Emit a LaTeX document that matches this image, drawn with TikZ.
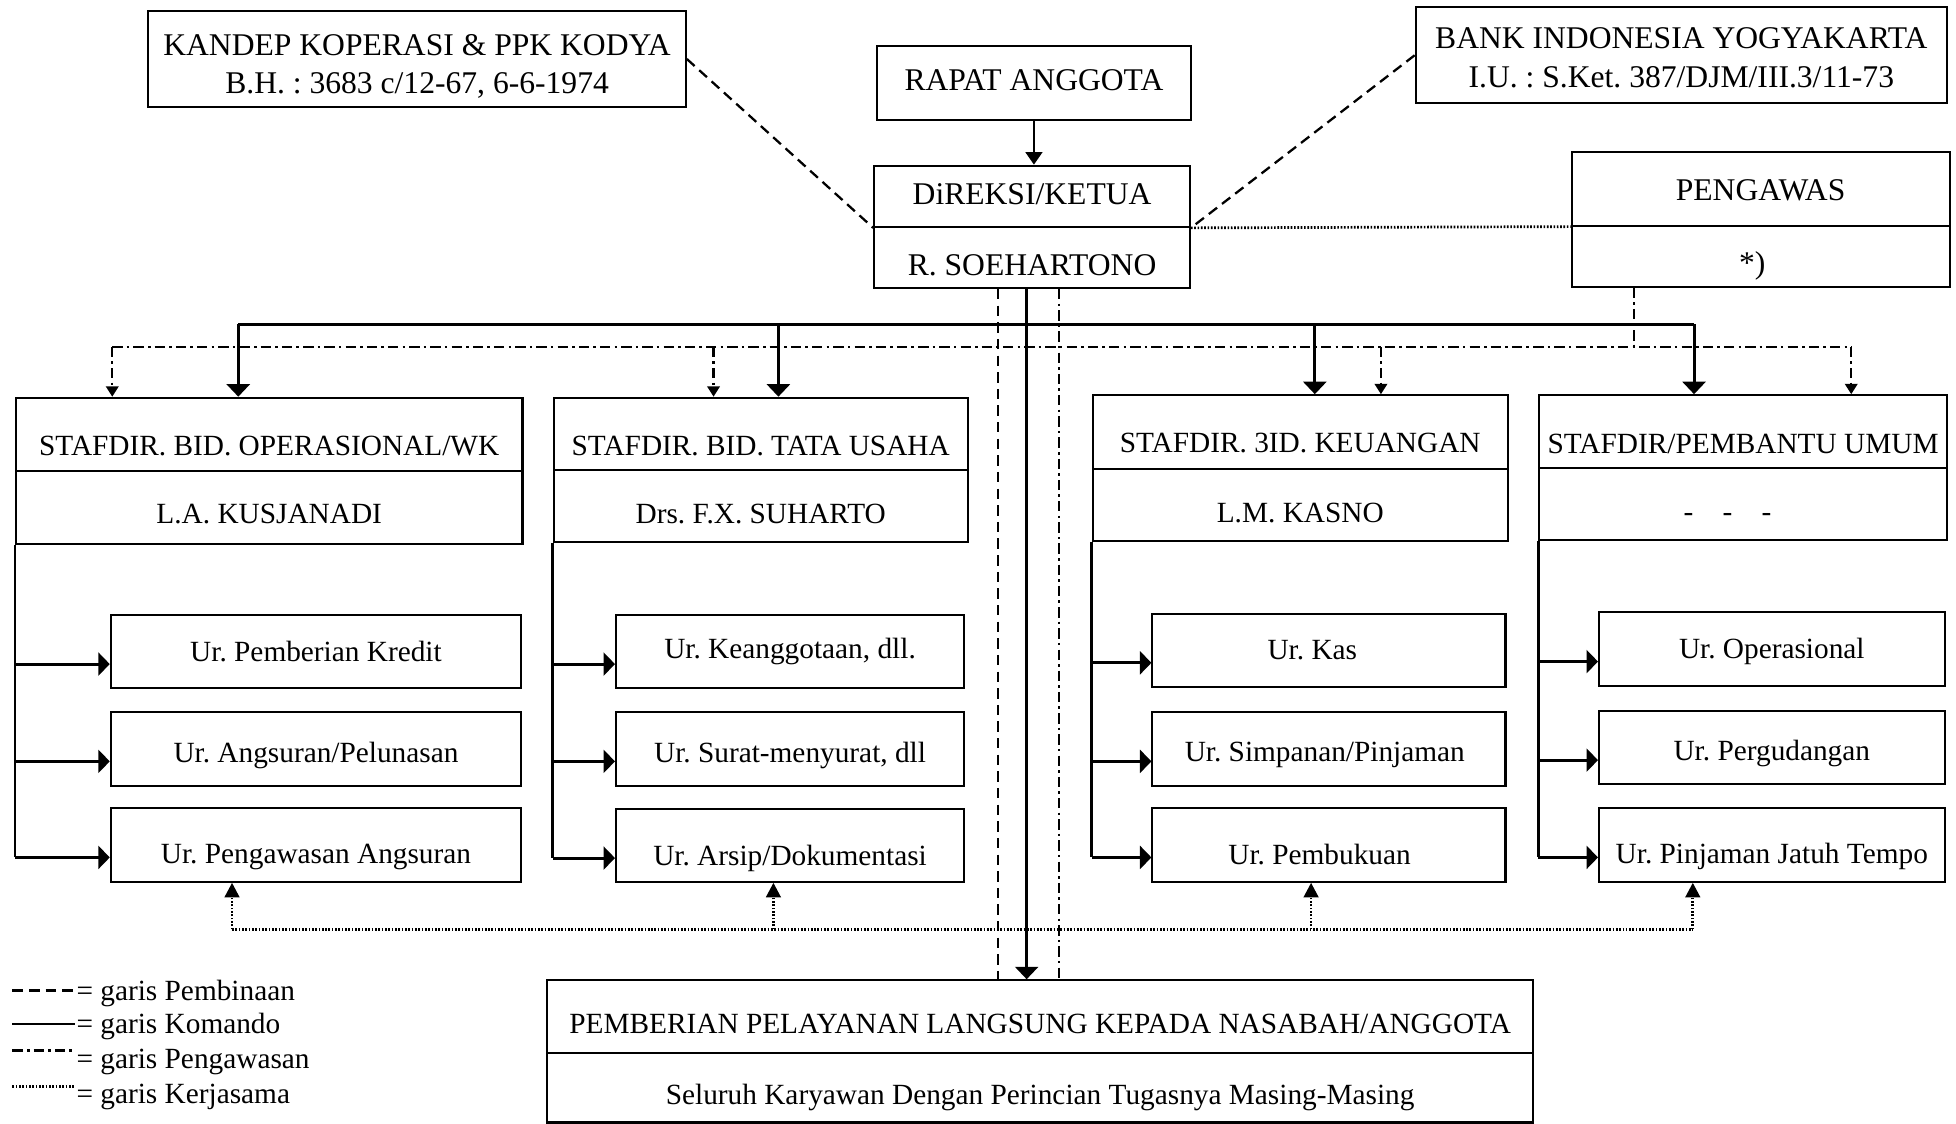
\documentclass[tikz,border=0pt]{standalone}
\usepackage{fontspec}
\setmainfont{Liberation Serif}
\usetikzlibrary{arrows.meta}
\frenchspacing
\newcommand\ftop{\fontsize{15.2}{18.5}\selectfont}
\newcommand\flow{\fontsize{14.1}{17}\selectfont}
% [text shift down in pt]{style}{name}{x1}{y1}{x2}{y2}{text}
\newcommand\mybox[8][0]{\node[#2, minimum width={(#6-#4)*0.6pt}, minimum height={(#7-#5)*0.6pt}] (#3) at (#4,#5) {\raisebox{-#1pt}[\height][\depth]{#8}};}
\newcommand\twolines[2]{\begin{tabular}{@{}c@{}}#1\\#2\end{tabular}}
\tikzset{
  bx/.style={draw, line width=1pt, inner sep=0pt, anchor=north west, align=center, font=\flow},
  topbx/.style={bx, font=\ftop},
  cmd/.style={line width=1.4pt},
  cmdarr/.style={cmd, -{Triangle[width=11pt,length=6pt]}},
  subarr/.style={cmd, -{Triangle[width=11pt,length=5.5pt]}},
  pbn/.style={line width=1.1pt, dash pattern=on 5pt off 3pt},
  pgw/.style={line width=1.1pt, dash pattern=on 5pt off 2pt on 1.2pt off 2pt},
  pgwarr/.style={pgw, -{Triangle[width=6pt,length=5pt]}},
  kjs/.style={line width=1.3pt, dash pattern=on 0.8pt off 0.8pt},
  kjsarr/.style={kjs, -{Triangle[width=7pt,length=7pt]}},
}
\begin{document}
\begin{tikzpicture}[x=0.6pt, y=-0.6pt]
\fill[white] (0,0) rectangle (1568,901);
\useasboundingbox (0,0) rectangle (1568,901);
% top
\mybox[3.6]{topbx}{kandep}{118}{8}{549}{85}{\twolines{KANDEP KOPERASI \& PPK KODYA}{B.H. : 3683 c/12-67, 6-6-1974}}
\mybox[-1.2]{topbx}{rapat}{702}{36}{954}{95}{RAPAT ANGGOTA}
\mybox[2.4]{topbx}{bank}{1134}{5}{1560}{82}{\twolines{BANK INDONESIA YOGYAKARTA}{I.U. : S.Ket. 387/DJM/III.3/11-73}}
\mybox[-1.2]{topbx}{dir1}{700}{132}{953}{181}{DiREKSI/KETUA}
\mybox[3.6]{topbx}{dir2}{700}{181}{953}{230}{R. SOEHARTONO}
\mybox[0.6]{topbx}{peng1}{1259}{121}{1562}{180}{PENGAWAS}
\mybox[4.8]{topbx}{peng2}{1259}{180}{1562}{229}{*)\kern8pt}
% staff
\mybox[5.4]{bx}{s1a}{12}{318}{418}{377}{STAFDIR. BID. OPERASIONAL/WK}
\mybox[3]{bx}{s1b}{12}{377}{418}{435}{L.A. KUSJANADI}
\mybox[6]{bx}{s2a}{443}{318}{775}{376}{STAFDIR. BID. TATA USAHA}
\mybox[3.6]{bx}{s2b}{443}{376}{775}{434}{Drs. F.X. SUHARTO}
\mybox[5.4]{bx}{s3a}{875}{316}{1208}{375}{STAFDIR. 3ID. KEUANGAN}
\mybox[3.6]{bx}{s3b}{875}{375}{1208}{433}{L.M. KASNO}
\mybox[6]{bx}{s4a}{1233}{316}{1560}{374}{STAFDIR/PEMBANTU UMUM}
\mybox[6.6]{bx}{s4b}{1233}{374}{1560}{432}{-\hspace{1em}-\hspace{1em}-\kern15pt}
% sub units
\mybox{bx}{a11}{88}{492}{417}{551}{Ur. Pemberian Kredit}
\mybox[3]{bx}{a12}{88}{570}{417}{629}{Ur. Angsuran/Pelunasan}
\mybox[6]{bx}{a13}{88}{647}{417}{706}{Ur. Pengawasan Angsuran}
\mybox{bx}{a21}{493}{492}{772}{551}{Ur. Keanggotaan, dll.}
\mybox[3]{bx}{a22}{493}{570}{772}{629}{Ur. Surat-menyurat, dll}
\mybox[6]{bx}{a23}{493}{648}{772}{706}{Ur. Arsip/Dokumentasi}
\mybox{bx}{a31}{923}{491}{1206}{550}{Ur. Kas\kern16pt}
\mybox[3]{bx}{a32}{923}{570}{1206}{629}{Ur. Simpanan/Pinjaman\kern4pt}
\mybox[4.8]{bx}{a33}{923}{647}{1206}{706}{Ur. Pembukuan\kern9pt}
\mybox[1.2]{bx}{a41}{1281}{490}{1558}{549}{Ur. Operasional}
\mybox[3]{bx}{a42}{1281}{569}{1558}{628}{Ur. Pergudangan}
\mybox[5.4]{bx}{a43}{1281}{647}{1558}{706}{Ur. Pinjaman Jatuh Tempo}
% bottom
\mybox[3.6]{bx}{pel1}{438}{785}{1228}{843}{PEMBERIAN PELAYANAN LANGSUNG KEPADA NASABAH/ANGGOTA}
\mybox[4.8]{bx}{pel2}{438}{843}{1228}{899}{Seluruh Karyawan Dengan Perincian Tugasnya Masing-Masing}
% helper coordinates
\coordinate (xA) at (800,0);
\coordinate (xB) at (849,0);
\coordinate (xC) at (823,0);
\coordinate (k1) at (191,260);
\coordinate (k2) at (624,260);
\coordinate (k3) at (1054,260);
\coordinate (k4) at (1358,260);
\coordinate (p0) at (1310,278);
\coordinate (p1) at (90,278);
\coordinate (p2) at (572,278);
\coordinate (p3) at (1107,278);
\coordinate (p4) at (1484,278);
\coordinate (q1) at (186,745);
\coordinate (q2) at (620,745);
\coordinate (q3) at (1051,745);
\coordinate (q4) at (1357,745);
% top connectors
\draw[cmd, line width=1.1pt, -{Triangle[width=8pt,length=6pt]}] (rapat.south) -- (rapat.south |- dir1.north);
\draw[pbn] (kandep.east) -- (dir1.south west);
\draw[pbn] (bank.west) -- (dir1.south east);
\draw[kjs] (dir1.south east) -- (peng1.south west);
% central verticals
\draw[pbn] (dir2.south -| xA) -- (pel1.north -| xA);
\draw[pgw] (dir2.south -| xB) -- (pel1.north -| xB);
\draw[cmdarr] (dir2.south -| xC) -- (pel1.north -| xC);
% komando bar
\draw[cmd] (k1) -- (k4);
\draw[cmdarr] (k1) -- (k1 |- s1a.north);
\draw[cmdarr] (k2) -- (k2 |- s2a.north);
\draw[cmdarr] (k3) -- (k3 |- s3a.north);
\draw[cmdarr] (k4) -- (k4 |- s4a.north);
% pengawasan bar
\draw[pgw] (p1) -- (p4);
\draw[pgw] (peng2.south -| p0) -- (p0);
\draw[pgwarr] (p1) -- (p1 |- s1a.north);
\draw[pgwarr] (p2) -- (p2 |- s2a.north);
\draw[pgwarr] (p3) -- (p3 |- s3a.north);
\draw[pgwarr] (p4) -- (p4 |- s4a.north);
% columns
\foreach \i in {1,2,3,4} {
  \foreach \r in {1,2,3} {
    \coordinate (e\i\r) at ([yshift=-6pt]a\i\r.west);
    \draw[subarr] (e\i\r -| s\i b.south west) -- (e\i\r);
  }
  \draw[cmd] (s\i b.south west) -- (e\i3 -| s\i b.south west);
}
% kerjasama bar
\draw[kjs] (q1) -- (q4);
\draw[kjsarr] (q1) -- (q1 |- a13.south);
\draw[kjsarr] (q2) -- (q2 |- a23.south);
\draw[kjsarr] (q3) -- (q3 |- a33.south);
\draw[kjsarr] (q4) -- (q4 |- a43.south);
% legend
\draw[pbn] (10,794) -- (60,794);
\draw[cmd, line width=1.1pt] (10,821) -- (60,821);
\draw[pgw] (10,842) -- (58,842);
\draw[kjs] (10,871) -- (60,871);
\node[anchor=west, font=\flow, inner sep=0pt] (lg1) at (61,796) {= garis Pembinaan};
\node[anchor=west, font=\flow, inner sep=0pt] (lg2) at (61,823) {= garis Komando};
\node[anchor=west, font=\flow, inner sep=0pt] (lg3) at (61,851) {= garis Pengawasan};
\node[anchor=west, font=\flow, inner sep=0pt] (lg4) at (61,879) {= garis Kerjasama};
\end{tikzpicture}
\end{document}
